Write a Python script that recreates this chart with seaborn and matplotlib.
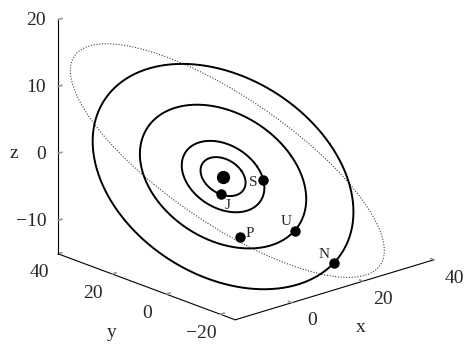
#Outer planets and their orbits, heliocentric equatorial coordinates (AU)
import numpy as np
import matplotlib
matplotlib.use('Agg')
import matplotlib.pyplot as plt
import seaborn as sns
from mpl_toolkits.mplot3d import proj3d

#planet names and positions (equatorial x, y, z in AU)
names = ['J', 'S', 'U', 'N', 'P']
planet_x = [-3.34, 8.78, 7.93, 11.81, -14.8]
planet_y = [-3.65, -3.32, -16.05, -25.4, -25.6]
planet_z = [-1.58, -1.44, -6.96, -11.01, -2.73]

#orbits of J, S, U, N taken as circles in the ecliptic
orbit_radius = [5.2, 9.54, 19.2, 30.1]

#Pluto orbital elements
pluto_a = 39.48
pluto_e = 0.2488
pluto_incl = 17.14
pluto_node = 110.3
pluto_peri = 113.8

obliquity = 23.44

#axis ranges and ticks
xlim = (-16, 40)
ylim = (-25.5, 40)
zlim = (-15, 20)
xticks = [0, 20, 40]
yticks = [-20, 0, 20, 40]
zticks = [-10, 0, 10, 20]

#label offsets in points (dx, dy)
label_offsets = [(5, -8), (-7, -2), (-6, 7), (-7, 6), (7, 2)]

def ecl_to_eq(x, y, z):
    eps = np.radians(obliquity)
    return x, y*np.cos(eps) - z*np.sin(eps), y*np.sin(eps) + z*np.cos(eps)

sns.set_theme(style="white")
plt.rcParams['font.family'] = ['Liberation Serif', 'DejaVu Serif']

fig = plt.figure(figsize=(4.66, 3.47), dpi=100)
ax = fig.add_subplot(projection='3d', proj_type='ortho', computed_zorder=False)
ax.set_position([0.018, 0.084, 1, 1])

t = np.linspace(0, 2*np.pi, 400)
for r in orbit_radius:
    ox, oy, oz = ecl_to_eq(r*np.cos(t), r*np.sin(t), 0*t)
    ax.plot(ox, oy, oz, color='black', lw=1.4, zorder=2)

#Pluto
nu = t
r = pluto_a*(1 - pluto_e**2)/(1 + pluto_e*np.cos(nu))
O, i, w = np.radians(pluto_node), np.radians(pluto_incl), np.radians(pluto_peri)
px = r*(np.cos(O)*np.cos(w + nu) - np.sin(O)*np.sin(w + nu)*np.cos(i))
py = r*(np.sin(O)*np.cos(w + nu) + np.cos(O)*np.sin(w + nu)*np.cos(i))
pz = r*np.sin(w + nu)*np.sin(i)
px, py, pz = ecl_to_eq(px, py, pz)
ax.plot(px, py, pz, color='0.25', lw=0.8, ls=(0, (1, 1.5)), zorder=1)

#sun and planets
ax.plot([0], [0], [0], 'o', color='black', ms=8.5, zorder=3)
ax.plot(planet_x, planet_y, planet_z, 'o', color='black', ms=6.5, zorder=3)

ax.set_xlim(*xlim)
ax.set_ylim(*ylim)
ax.set_zlim(*zlim)
ax.set_xticks(xticks)
ax.set_yticks(yticks)
ax.set_zticks(zticks)
ax.set_xticklabels([])
ax.set_yticklabels([])
ax.set_zticklabels([])
ax.view_init(elev=19.6, azim=-132)
ax.set_box_aspect((268, 265, 249), zoom=1.262)

ax.grid(False)
for a in [ax.xaxis, ax.yaxis, ax.zaxis]:
    a.set_pane_color((1, 1, 1, 0))
    a.pane.set_edgecolor((1, 1, 1, 0))
    a.line.set_color('black')
    a.line.set_linewidth(0.8)
    a._axinfo['tick']['outward_factor'] = 0.25
    a._axinfo['tick']['inward_factor'] = 0.0
ax.tick_params(colors='0.6', width=0.8)

M = ax.get_proj()
def put(s, x, y, z, off, size, ha='center'):
    x2, y2, _ = proj3d.proj_transform(x, y, z, M)
    ax.annotate(s, xy=(x2, y2), xytext=off, textcoords='offset points',
                ha=ha, va='center', fontsize=size, annotation_clip=False)

fmt = lambda v: str(v).replace('-', '\u2212')
#tick labels
for v in xticks:
    put(fmt(v), v, ylim[0], zlim[0], (14.4, -13.2), 14)
for v in yticks:
    put(fmt(v), xlim[0], v, zlim[0], (-13.5, -13.7), 14)
for v in zticks:
    put(fmt(v), xlim[0], ylim[1], v, (-8.6, -0.5), 14, ha='right')

#axis labels
put('x', np.mean(xlim), ylim[0], zlim[0], (19, -27), 14)
put('y', xlim[0], np.mean(ylim), zlim[0], (-25, -33), 14)
put('z', xlim[0], ylim[1], 0, (-32, 0), 14)

#labels next to the planets
for n, x, y, z, off in zip(names, planet_x, planet_y, planet_z, label_offsets):
    put(n, x, y, z, off, 11)

plt.savefig('out.png', dpi=100)
